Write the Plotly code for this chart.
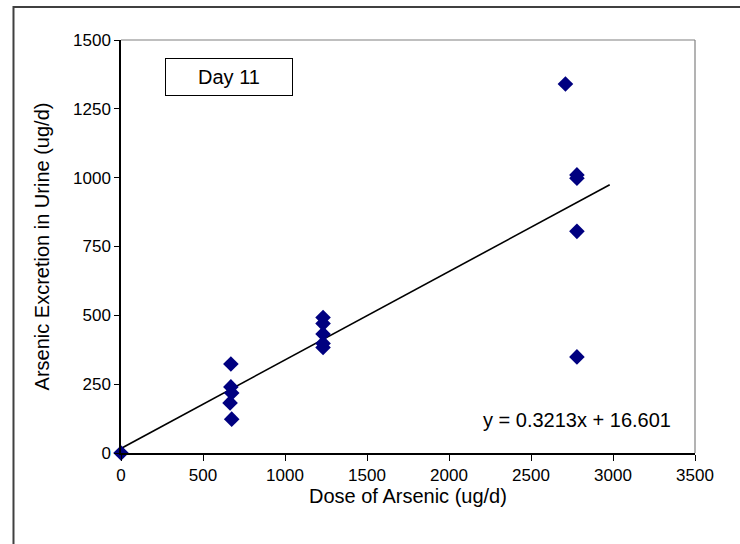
import plotly.graph_objects as go

# Data
dose = [0, 670, 670, 675, 665, 675, 1232, 1232, 1232, 1232, 1232, 2710, 2780, 2780, 2780, 2780]
excretion = [0, 323, 240, 218, 182, 123, 492, 470, 432, 398, 383, 1340, 1010, 998, 805, 349]

slope = 0.3213
intercept = 16.601
trend_x = [0, 2980]
trend_y = [slope * v + intercept for v in trend_x]

x_ticks = [0, 500, 1000, 1500, 2000, 2500, 3000, 3500]
y_ticks = [0, 250, 500, 750, 1000, 1250, 1500]

font = "Liberation Sans, Arial, sans-serif"

fig = go.Figure()
fig.add_trace(go.Scatter(x=trend_x, y=trend_y, mode="lines",
                         line=dict(color="black", width=1.6), showlegend=False, hoverinfo="skip"))
fig.add_trace(go.Scatter(x=dose, y=excretion, mode="markers", cliponaxis=False,
                         marker=dict(symbol="diamond", size=12, color="#000080",
                                     line=dict(width=0)), showlegend=False))

fig.update_layout(
    width=740, height=544,
    margin=dict(l=121, r=45, t=40, b=91),
    paper_bgcolor="white", plot_bgcolor="white",
    font=dict(family=font, size=17, color="black"),
    xaxis=dict(range=[0, 3500], tickvals=x_ticks, ticktext=[str(v) for v in x_ticks],
               showgrid=False, zeroline=False, showline=True, linecolor="black", linewidth=1.5,
               ticks="outside", ticklen=6, tickcolor="black", tickwidth=1,
               tickfont=dict(size=17)),
    yaxis=dict(range=[0, 1500], tickvals=y_ticks, ticktext=[str(v) for v in y_ticks],
               showgrid=False, zeroline=False, showline=True, linecolor="black", linewidth=1.5,
               ticks="outside", ticklen=5, tickcolor="black", tickwidth=1,
               tickfont=dict(size=17),
               title=dict(text="Arsenic Excretion in Urine (ug/d)", font=dict(size=20), standoff=18)),
    shapes=[
        dict(type="line", xref="paper", yref="paper", x0=0, x1=1, y0=1, y1=1,
             line=dict(color="#808080", width=1.2)),
        dict(type="line", xref="paper", yref="paper", x0=1, x1=1, y0=0, y1=1,
             line=dict(color="#808080", width=1.2)),
        dict(type="rect", xref="paper", yref="paper", x0=-0.1873, x1=1.3, y0=-0.4, y1=1.0799,
             line=dict(color="#404040", width=2), layer="below"),
    ],
    annotations=[
        dict(text="Dose of Arsenic (ug/d)", xref="paper", yref="paper", x=(408 - 121) / 574,
             y=(453 - 496) / 413, showarrow=False, font=dict(size=20),
             xanchor="center", yanchor="middle"),
        dict(text="Day 11", xref="paper", yref="paper", x=(229 - 121) / 574, y=(453 - 77) / 413,
             showarrow=False, font=dict(size=20), bordercolor="black", borderwidth=1,
             borderpad=7, width=112, height=22, bgcolor="white", xanchor="center", yanchor="middle"),
        dict(text="y = 0.3213x + 16.601", xref="paper", yref="paper", x=(577 - 121) / 574,
             y=(453 - 420) / 413, showarrow=False, font=dict(size=20),
             xanchor="center", yanchor="middle"),
    ],
)

fig.write_html("out.html")
